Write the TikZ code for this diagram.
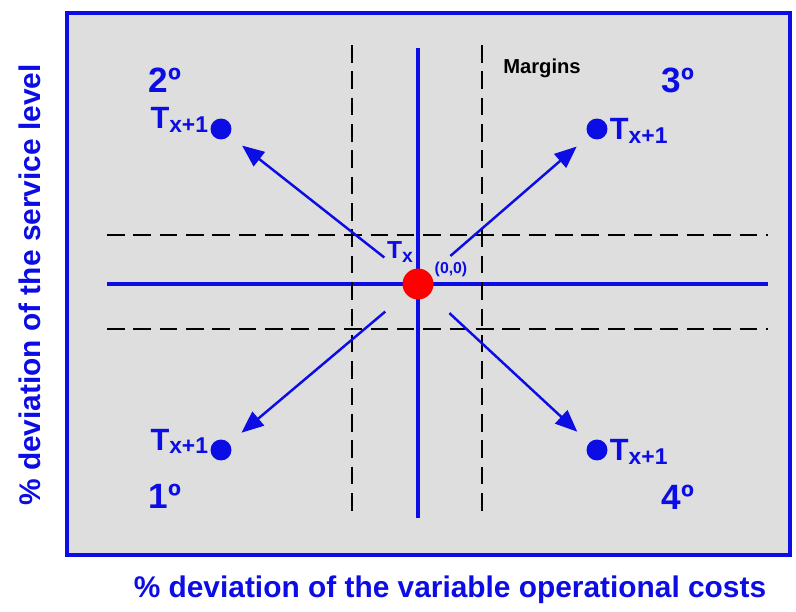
\documentclass[tikz,border=0pt]{standalone}
\usepackage{fontspec}
\setmainfont{Liberation Sans}
\usetikzlibrary{arrows.meta}

\definecolor{axisblue}{RGB}{12,12,228}
\definecolor{panelgray}{RGB}{222,222,222}

% T with a lowered index, as printed in the chart
\newcommand{\Tnext}{T{\fontsize{13}{13}\selectfont\raisebox{-1.8pt}{x+1}}}
\newcommand{\Tnow}{T{\fontsize{11}{11}\selectfont\raisebox{-1.8pt}{x}}}

\begin{document}
\begin{tikzpicture}[x=0.02cm, y=-0.02cm,
    lbl/.style={text=axisblue, font=\bfseries\fontsize{17.5}{17.5}\selectfont, inner sep=1pt},
    quad/.style={text=axisblue, font=\bfseries\fontsize{20}{20}\selectfont},
    dot/.style={circle, fill=axisblue, inner sep=0pt, minimum size=0.42cm},
    axis/.style={axisblue, line width=2.5pt},
    margin/.style={black, line width=1.1pt, dash pattern=on 10pt off 5pt},
    move/.style={axisblue, line width=1.4pt, -{Triangle[length=0.44cm, width=0.36cm]},
        shorten <=0.54cm, shorten >=0.32cm}]

    \def\cx{418}
    \def\cy{284}
    \def\xl{107}
    \def\xr{768}
    \def\yt{48}
    \def\yb{518}

    \useasboundingbox (0,0) rectangle (796,612);

    % --- Frame ---
    \draw[axisblue, line width=2.8pt, fill=panelgray] (67,13) rectangle (790,555);

    % --- Axes through the origin ---
    \draw[axis] (\xl,\cy) -- (\xr,\cy);
    \draw[axis] (\cx,\yt) -- (\cx,\yb);

    % --- Margins ---
    \draw[margin] (\xl,235) -- (\xr,235);
    \draw[margin] (\xl,329) -- (\xr,329);
    \draw[margin] (352,45) -- (352,\yb);
    \draw[margin] (482,45) -- (482,\yb);
    \node[font=\bfseries\fontsize{11.5}{11.5}\selectfont] (mrg) at (542,68) {Margins};

    % --- Current and next positions ---
    \node[circle, fill=red, inner sep=0pt, minimum size=0.62cm] (tx) at (\cx,\cy) {};
    \node[dot] (q1) at (221,450) {};
    \node[dot] (q2) at (221,129) {};
    \node[dot] (q3) at (597,129) {};
    \node[dot] (q4) at (597,450) {};

    \node[text=axisblue, font=\bfseries\fontsize{14}{14}\selectfont] (ltx) at (400,252) {\Tnow};
    \node[text=axisblue, font=\bfseries\fontsize{9}{9}\selectfont] (org) at (451,269) {(0,0)};

    \node[lbl, anchor=base east] (l1) at (q1.west) {\Tnext};
    \node[lbl, anchor=base east] (l2) at (q2.west) {\Tnext};
    \node[lbl, anchor=base west] (l3) at ([yshift=-0.22cm]q3.east) {\Tnext};
    \node[lbl, anchor=base west] (l4) at ([yshift=-0.22cm]q4.east) {\Tnext};

    % --- Quadrants ---
    \node[quad] (n1) at (165,496) {1º};
    \node[quad] (n2) at (165,80) {2º};
    \node[quad] (n3) at (678,80) {3º};
    \node[quad] (n4) at (678,497) {4º};

    % --- Moves ---
    \draw[move] (tx) -- (q1);
    \draw[move] (tx) -- (q2);
    \draw[move] (tx) -- (q3);
    \draw[move] (tx) -- (q4);

    % --- Axis titles ---
    \node[text=axisblue, font=\bfseries\fontsize{17}{17}\selectfont] (xt) at (450,590)
        {\% deviation of the variable operational costs};
    \node[text=axisblue, font=\bfseries\fontsize{17}{17}\selectfont, rotate=90] (yt) at (30,285)
        {\% deviation of the service level};

\end{tikzpicture}
\end{document}
